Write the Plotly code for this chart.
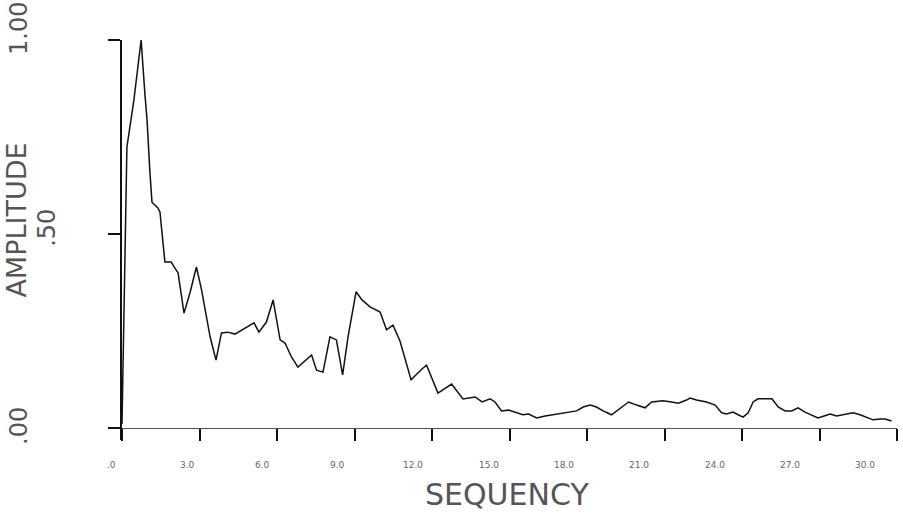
import plotly.graph_objects as go

# Sequency vs normalised amplitude
sequency = [0.00, 0.08, 0.12, 0.19, 0.46, 0.58, 0.74, 0.89, 0.97, 1.08,
            1.16, 1.39, 1.47, 1.66, 1.90, 2.05, 2.17, 2.40, 2.63, 2.88,
            3.08, 3.41, 3.64, 3.85, 4.10, 4.37, 4.63, 4.82, 5.11, 5.30,
            5.59, 5.85, 6.12, 6.31, 6.56, 6.81, 7.34, 7.53, 7.78, 8.05,
            8.30, 8.54, 8.75, 9.06, 9.29, 9.60, 9.99, 10.24, 10.49, 10.76,
            11.19, 11.61, 11.79, 12.23, 12.76, 13.20, 13.67, 13.94, 14.25, 14.44,
            14.69, 14.96, 15.27, 15.52, 15.74, 16.05, 16.38, 16.82, 17.21, 17.60,
            17.85, 18.12, 18.37, 18.62, 18.95, 19.34, 19.61, 19.92, 20.25, 20.50,
            20.94, 21.27, 21.54, 21.85, 21.99, 22.24, 22.63, 22.96, 23.21, 23.40,
            23.65, 23.85, 24.04, 24.24, 24.43, 24.62, 25.16, 25.40, 25.67, 25.92,
            26.17, 26.44, 26.69, 26.94, 27.18, 27.41, 27.66, 27.91, 28.30, 28.57,
            28.82, 29.07, 29.35, 29.54, 29.79]
amplitude = [0.01, 0.33, 0.51, 0.724, 0.845, 0.91, 1.00, 0.858, 0.794, 0.66,
             0.582, 0.567, 0.557, 0.428, 0.428, 0.412, 0.400, 0.296, 0.348, 0.415,
             0.356, 0.235, 0.175, 0.245, 0.247, 0.242, 0.253, 0.260, 0.271, 0.247,
             0.273, 0.330, 0.227, 0.219, 0.183, 0.157, 0.188, 0.149, 0.144, 0.235,
             0.227, 0.137, 0.235, 0.351, 0.330, 0.312, 0.299, 0.253, 0.265, 0.224,
             0.124, 0.152, 0.162, 0.090, 0.113, 0.075, 0.080, 0.067, 0.075, 0.067,
             0.044, 0.046, 0.039, 0.034, 0.036, 0.026, 0.031, 0.036, 0.039, 0.044,
             0.054, 0.059, 0.054, 0.044, 0.034, 0.054, 0.067, 0.059, 0.052, 0.067,
             0.070, 0.067, 0.064, 0.072, 0.077, 0.072, 0.067, 0.059, 0.039, 0.036,
             0.041, 0.034, 0.028, 0.039, 0.067, 0.075, 0.075, 0.054, 0.044, 0.044,
             0.052, 0.041, 0.034, 0.026, 0.031, 0.036, 0.031, 0.034, 0.039, 0.034,
             0.028, 0.021, 0.023, 0.023, 0.018]

x_ticks = [0, 3, 6, 9, 12, 15, 18, 21, 24, 27, 30]
x_tick_text = [".0", "3.0", "6.0", "9.0", "12.0", "15.0", "18.0", "21.0", "24.0", "27.0", "30.0"]
y_ticks = [0.0, 0.5, 1.0]
y_tick_text = [".00", ".50", "1.00"]

Y_LOW = -0.031
X_MAX = 30.0

fig = go.Figure()
fig.add_trace(go.Scatter(x=sequency, y=amplitude, mode="lines",
                         line=dict(color="#111111", width=1.5),
                         hoverinfo="skip", showlegend=False))

annotations = []
# x tick labels (small, slightly compressed spacing as on the original print)
for v, t in zip(x_ticks, x_tick_text):
    annotations.append(dict(text=t, xref="paper", yref="paper",
                            x=(v * 0.972 - 0.39) / X_MAX, y=-0.0625,
                            showarrow=False, xanchor="center", yanchor="middle",
                            font=dict(family="DejaVu Sans", size=9, color="#666666")))
# y tick labels, rotated
y_label_x = {".00": -0.133, ".50": -0.097, "1.00": -0.133}
y_label_shift = {".00": 2, ".50": 6, "1.00": 12}
for v, t in zip(y_ticks, y_tick_text):
    annotations.append(dict(text=t, xref="paper", yref="paper",
                            x=y_label_x[t], y=(v - Y_LOW) / (1 - Y_LOW),
                            yshift=y_label_shift[t], textangle=-90,
                            showarrow=False, xanchor="center", yanchor="middle",
                            font=dict(family="DejaVu Sans", size=24, color="#555555")))
# axis titles
annotations.append(dict(text="AMPLITUDE", xref="paper", yref="paper",
                        x=-0.136, y=0.55, textangle=-90, showarrow=False,
                        xanchor="center", yanchor="middle",
                        font=dict(family="DejaVu Sans", size=27, color="#555555")))
annotations.append(dict(text="SEQUENCY", xref="paper", yref="paper",
                        x=0.497, y=-0.137, showarrow=False,
                        xanchor="center", yanchor="middle",
                        font=dict(family="DejaVu Sans", size=30, color="#555555")))

fig.update_layout(
    width=903, height=524,
    margin=dict(l=122, r=6, t=40, b=84),
    paper_bgcolor="white", plot_bgcolor="white",
    xaxis=dict(range=[0, X_MAX], tickmode="array", tickvals=x_ticks,
               showticklabels=False, ticks="outside", ticklen=12, tickwidth=1.5,
               tickcolor="#111111", showline=True, linecolor="#555555", linewidth=1,
               showgrid=False, zeroline=False, anchor="free",
               position=(0 - Y_LOW) / (1 - Y_LOW)),
    yaxis=dict(range=[Y_LOW, 1.0], tickmode="array", tickvals=y_ticks,
               showticklabels=False, ticks="outside", ticklen=12, tickwidth=1.5,
               tickcolor="#111111", showline=True, linecolor="#111111", linewidth=2,
               showgrid=False, zeroline=False),
    annotations=annotations,
)

fig.write_html("out.html", config={"displayModeBar": False},
               post_script="document.body.style.margin='0px';")
